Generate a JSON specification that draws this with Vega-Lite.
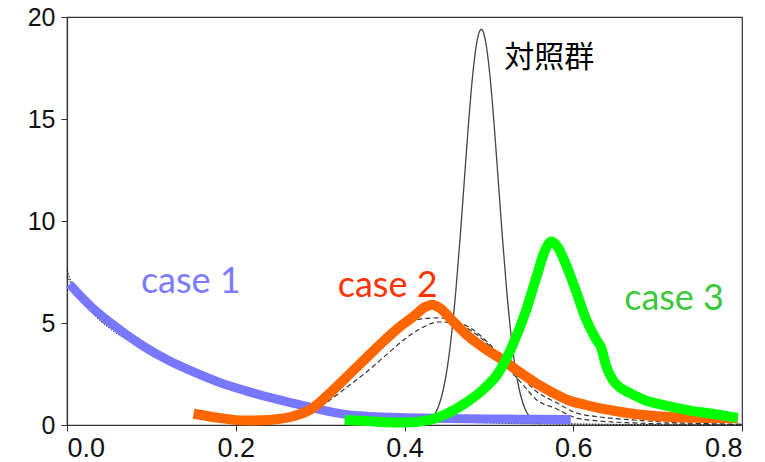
{
  "$schema": "https://vega.github.io/schema/vega-lite/v6.json",
  "width": 675,
  "height": 408,
  "autosize": {"type": "none"},
  "padding": {"left": 67, "top": 17, "right": 23, "bottom": 37},
  "background": "white",
  "config": {
    "view": {"stroke": "#333", "strokeWidth": 1.2},
    "axis": {
      "grid": false,
      "labelFont": "Liberation Sans",
      "labelFontSize": 25,
      "labelColor": "#111",
      "domainColor": "#333",
      "domainWidth": 1.2,
      "tickColor": "#333",
      "tickSize": 6,
      "title": null
    }
  },
  "datasets": {
    "lines": [
      {"s": "control", "x": 0.421, "y": 0.06},
      {"s": "control", "x": 0.431, "y": 0.27},
      {"s": "control", "x": 0.441, "y": 0.99},
      {"s": "control", "x": 0.446, "y": 1.74},
      {"s": "control", "x": 0.451, "y": 2.89},
      {"s": "control", "x": 0.456, "y": 4.52},
      {"s": "control", "x": 0.461, "y": 6.65},
      {"s": "control", "x": 0.466, "y": 9.22},
      {"s": "control", "x": 0.471, "y": 12.05},
      {"s": "control", "x": 0.476, "y": 14.85},
      {"s": "control", "x": 0.481, "y": 17.23},
      {"s": "control", "x": 0.486, "y": 18.83},
      {"s": "control", "x": 0.491, "y": 19.4},
      {"s": "control", "x": 0.496, "y": 18.83},
      {"s": "control", "x": 0.501, "y": 17.23},
      {"s": "control", "x": 0.506, "y": 14.85},
      {"s": "control", "x": 0.511, "y": 12.05},
      {"s": "control", "x": 0.516, "y": 9.22},
      {"s": "control", "x": 0.521, "y": 6.65},
      {"s": "control", "x": 0.526, "y": 4.52},
      {"s": "control", "x": 0.531, "y": 2.89},
      {"s": "control", "x": 0.536, "y": 1.74},
      {"s": "control", "x": 0.541, "y": 0.99},
      {"s": "control", "x": 0.551, "y": 0.27},
      {"s": "control", "x": 0.561, "y": 0.06},

      {"s": "d1", "x": 0.0, "y": 7.6},
      {"s": "d1", "x": 0.005, "y": 7.0},
      {"s": "d1", "x": 0.015, "y": 6.3},
      {"s": "d1", "x": 0.03, "y": 5.5},
      {"s": "d1", "x": 0.05, "y": 4.75},
      {"s": "d1", "x": 0.07, "y": 4.2},
      {"s": "d1", "x": 0.095, "y": 3.7},
      {"s": "d1", "x": 0.13, "y": 3.05},
      {"s": "d1", "x": 0.17, "y": 2.3},
      {"s": "d1", "x": 0.22, "y": 1.6},
      {"s": "d1", "x": 0.3, "y": 0.8},
      {"s": "d1", "x": 0.4, "y": 0.3},
      {"s": "d1", "x": 0.5, "y": 0.12},
      {"s": "d1", "x": 0.6, "y": 0.05},
      {"s": "d1", "x": 0.7, "y": 0.02},
      {"s": "d1", "x": 0.8, "y": 0.01},

      {"s": "d2", "x": 0.0, "y": 7.3},
      {"s": "d2", "x": 0.008, "y": 6.7},
      {"s": "d2", "x": 0.02, "y": 6.0},
      {"s": "d2", "x": 0.04, "y": 5.1},
      {"s": "d2", "x": 0.06, "y": 4.55},
      {"s": "d2", "x": 0.08, "y": 4.1},
      {"s": "d2", "x": 0.1, "y": 3.65},
      {"s": "d2", "x": 0.13, "y": 3.0},
      {"s": "d2", "x": 0.17, "y": 2.25},
      {"s": "d2", "x": 0.22, "y": 1.55},
      {"s": "d2", "x": 0.3, "y": 0.75},
      {"s": "d2", "x": 0.4, "y": 0.28},
      {"s": "d2", "x": 0.5, "y": 0.1},
      {"s": "d2", "x": 0.6, "y": 0.04},
      {"s": "d2", "x": 0.7, "y": 0.02},
      {"s": "d2", "x": 0.8, "y": 0.01},

      {"s": "k1", "x": 0.2, "y": 0.05},
      {"s": "k1", "x": 0.24, "y": 0.25},
      {"s": "k1", "x": 0.27, "y": 0.6},
      {"s": "k1", "x": 0.3, "y": 1.3},
      {"s": "k1", "x": 0.33, "y": 2.4},
      {"s": "k1", "x": 0.355, "y": 3.5},
      {"s": "k1", "x": 0.38, "y": 4.4},
      {"s": "k1", "x": 0.4, "y": 4.95},
      {"s": "k1", "x": 0.42, "y": 5.2},
      {"s": "k1", "x": 0.44, "y": 5.25},
      {"s": "k1", "x": 0.46, "y": 5.1},
      {"s": "k1", "x": 0.48, "y": 4.7},
      {"s": "k1", "x": 0.5, "y": 4.0},
      {"s": "k1", "x": 0.52, "y": 3.1},
      {"s": "k1", "x": 0.54, "y": 2.3},
      {"s": "k1", "x": 0.556, "y": 1.65},
      {"s": "k1", "x": 0.58, "y": 1.1},
      {"s": "k1", "x": 0.603, "y": 0.6},
      {"s": "k1", "x": 0.63, "y": 0.4},
      {"s": "k1", "x": 0.67, "y": 0.25},
      {"s": "k1", "x": 0.72, "y": 0.12},
      {"s": "k1", "x": 0.8, "y": 0.04},

      {"s": "k2", "x": 0.2, "y": 0.03},
      {"s": "k2", "x": 0.24, "y": 0.15},
      {"s": "k2", "x": 0.27, "y": 0.4},
      {"s": "k2", "x": 0.3, "y": 0.9},
      {"s": "k2", "x": 0.33, "y": 1.8},
      {"s": "k2", "x": 0.355, "y": 2.6},
      {"s": "k2", "x": 0.38, "y": 3.5},
      {"s": "k2", "x": 0.4, "y": 4.2},
      {"s": "k2", "x": 0.42, "y": 4.75},
      {"s": "k2", "x": 0.44, "y": 5.05},
      {"s": "k2", "x": 0.46, "y": 5.0},
      {"s": "k2", "x": 0.48, "y": 4.6},
      {"s": "k2", "x": 0.5, "y": 3.9},
      {"s": "k2", "x": 0.52, "y": 2.9},
      {"s": "k2", "x": 0.54, "y": 2.0},
      {"s": "k2", "x": 0.556, "y": 1.25},
      {"s": "k2", "x": 0.58, "y": 0.8},
      {"s": "k2", "x": 0.603, "y": 0.35},
      {"s": "k2", "x": 0.63, "y": 0.2},
      {"s": "k2", "x": 0.67, "y": 0.1},
      {"s": "k2", "x": 0.72, "y": 0.05},
      {"s": "k2", "x": 0.8, "y": 0.02},

      {"s": "case1", "x": 0.003, "y": 6.9},
      {"s": "case1", "x": 0.03, "y": 5.75},
      {"s": "case1", "x": 0.06, "y": 4.75},
      {"s": "case1", "x": 0.09, "y": 3.88},
      {"s": "case1", "x": 0.12, "y": 3.17},
      {"s": "case1", "x": 0.15, "y": 2.6},
      {"s": "case1", "x": 0.18, "y": 2.1},
      {"s": "case1", "x": 0.21, "y": 1.7},
      {"s": "case1", "x": 0.24, "y": 1.35},
      {"s": "case1", "x": 0.27, "y": 1.05},
      {"s": "case1", "x": 0.3, "y": 0.75},
      {"s": "case1", "x": 0.33, "y": 0.52},
      {"s": "case1", "x": 0.36, "y": 0.42},
      {"s": "case1", "x": 0.4, "y": 0.36},
      {"s": "case1", "x": 0.45, "y": 0.32},
      {"s": "case1", "x": 0.5, "y": 0.3},
      {"s": "case1", "x": 0.55, "y": 0.28},
      {"s": "case1", "x": 0.597, "y": 0.27},

      {"s": "case2", "x": 0.15, "y": 0.55},
      {"s": "case2", "x": 0.18, "y": 0.35},
      {"s": "case2", "x": 0.21, "y": 0.22},
      {"s": "case2", "x": 0.24, "y": 0.25},
      {"s": "case2", "x": 0.27, "y": 0.45},
      {"s": "case2", "x": 0.29, "y": 0.8},
      {"s": "case2", "x": 0.315, "y": 1.7},
      {"s": "case2", "x": 0.335, "y": 2.5},
      {"s": "case2", "x": 0.355, "y": 3.3},
      {"s": "case2", "x": 0.375, "y": 4.1},
      {"s": "case2", "x": 0.394, "y": 4.8},
      {"s": "case2", "x": 0.41, "y": 5.3},
      {"s": "case2", "x": 0.425, "y": 5.8},
      {"s": "case2", "x": 0.433, "y": 5.9},
      {"s": "case2", "x": 0.443, "y": 5.7},
      {"s": "case2", "x": 0.457, "y": 5.1},
      {"s": "case2", "x": 0.477, "y": 4.3},
      {"s": "case2", "x": 0.497, "y": 3.7},
      {"s": "case2", "x": 0.516, "y": 3.2},
      {"s": "case2", "x": 0.536, "y": 2.6},
      {"s": "case2", "x": 0.556, "y": 2.05},
      {"s": "case2", "x": 0.575, "y": 1.6},
      {"s": "case2", "x": 0.595, "y": 1.2},
      {"s": "case2", "x": 0.615, "y": 0.98},
      {"s": "case2", "x": 0.634, "y": 0.8},
      {"s": "case2", "x": 0.655, "y": 0.65},
      {"s": "case2", "x": 0.675, "y": 0.53},
      {"s": "case2", "x": 0.7, "y": 0.43},
      {"s": "case2", "x": 0.73, "y": 0.37},
      {"s": "case2", "x": 0.76, "y": 0.34},
      {"s": "case2", "x": 0.795, "y": 0.33},

      {"s": "case3", "x": 0.329, "y": 0.25},
      {"s": "case3", "x": 0.36, "y": 0.18},
      {"s": "case3", "x": 0.4, "y": 0.12},
      {"s": "case3", "x": 0.43, "y": 0.25},
      {"s": "case3", "x": 0.45, "y": 0.55},
      {"s": "case3", "x": 0.473, "y": 1.1},
      {"s": "case3", "x": 0.495, "y": 1.8},
      {"s": "case3", "x": 0.512, "y": 2.6},
      {"s": "case3", "x": 0.528, "y": 3.9},
      {"s": "case3", "x": 0.544, "y": 5.6},
      {"s": "case3", "x": 0.556, "y": 7.2},
      {"s": "case3", "x": 0.566, "y": 8.5},
      {"s": "case3", "x": 0.574, "y": 9.0},
      {"s": "case3", "x": 0.582, "y": 8.7},
      {"s": "case3", "x": 0.592, "y": 7.8},
      {"s": "case3", "x": 0.603, "y": 6.6},
      {"s": "case3", "x": 0.615, "y": 5.2},
      {"s": "case3", "x": 0.627, "y": 4.2},
      {"s": "case3", "x": 0.633, "y": 3.8},
      {"s": "case3", "x": 0.639, "y": 2.9},
      {"s": "case3", "x": 0.647, "y": 2.2},
      {"s": "case3", "x": 0.655, "y": 1.85},
      {"s": "case3", "x": 0.668, "y": 1.55},
      {"s": "case3", "x": 0.686, "y": 1.2},
      {"s": "case3", "x": 0.71, "y": 0.95},
      {"s": "case3", "x": 0.737, "y": 0.72},
      {"s": "case3", "x": 0.765, "y": 0.55},
      {"s": "case3", "x": 0.795, "y": 0.35}
    ],
    "labels": [
      {"t": "case 1", "x": 0.1467, "y": 6.47, "c": "#7B7BFF"},
      {"t": "case 2", "x": 0.38, "y": 6.27, "c": "#FF3300"},
      {"t": "case 3", "x": 0.7195, "y": 5.64, "c": "#3CC83C"}
    ],
    "cjk": [
      {"t": "対照群", "x": 0.5716, "y": 17.99}
    ]
  },
  "layer": [
    {
      "data": {"name": "lines"},
      "transform": [{"filter": "datum.s === 'control'"}],
      "mark": {"type": "line", "color": "#444", "strokeWidth": 1.3, "interpolate": "monotone"},
      "encoding": {
        "x": {"field": "x", "type": "quantitative", "scale": {"domain": [0, 0.8], "nice": false}, "axis": {"values": [0, 0.2, 0.4, 0.6, 0.8], "format": ".1f", "labelPadding": 4, "labelFontSize": 27}},
        "y": {"field": "y", "type": "quantitative", "scale": {"domain": [0, 20], "nice": false}, "axis": {"values": [0, 5, 10, 15, 20], "labelPadding": 6}}
      }
    },
    {
      "data": {"name": "lines"},
      "transform": [{"filter": "datum.s === 'd1' || datum.s === 'd2'"}],
      "mark": {"type": "line", "color": "#222", "strokeWidth": 1, "strokeDash": [1.5, 1.5], "interpolate": "monotone"},
      "encoding": {
        "x": {"field": "x", "type": "quantitative"},
        "y": {"field": "y", "type": "quantitative"},
        "detail": {"field": "s"}
      }
    },
    {
      "data": {"name": "lines"},
      "transform": [{"filter": "datum.s === 'k1' || datum.s === 'k2'"}],
      "mark": {"type": "line", "color": "#333", "strokeWidth": 1.2, "strokeDash": [5, 3], "interpolate": "monotone"},
      "encoding": {
        "x": {"field": "x", "type": "quantitative"},
        "y": {"field": "y", "type": "quantitative"},
        "detail": {"field": "s"}
      }
    },
    {
      "data": {"name": "lines"},
      "transform": [{"filter": "datum.s === 'case1'"}],
      "mark": {"type": "line", "color": "#7777FF", "strokeWidth": 9, "interpolate": "monotone", "strokeCap": "butt"},
      "encoding": {
        "x": {"field": "x", "type": "quantitative"},
        "y": {"field": "y", "type": "quantitative"}
      }
    },
    {
      "data": {"name": "lines"},
      "transform": [{"filter": "datum.s === 'case2'"}],
      "mark": {"type": "line", "color": "#FF6600", "strokeWidth": 10, "interpolate": "monotone", "strokeCap": "butt", "strokeJoin": "round"},
      "encoding": {
        "x": {"field": "x", "type": "quantitative"},
        "y": {"field": "y", "type": "quantitative"}
      }
    },
    {
      "data": {"name": "lines"},
      "transform": [{"filter": "datum.s === 'case3'"}],
      "mark": {"type": "line", "color": "#00FF00", "strokeWidth": 10, "interpolate": "monotone", "strokeCap": "butt", "strokeJoin": "round"},
      "encoding": {
        "x": {"field": "x", "type": "quantitative"},
        "y": {"field": "y", "type": "quantitative"}
      }
    },
    {
      "data": {"name": "labels"},
      "mark": {"type": "text", "font": "Lato", "fontSize": 36, "baseline": "alphabetic", "align": "center"},
      "encoding": {
        "x": {"field": "x", "type": "quantitative"},
        "y": {"field": "y", "type": "quantitative"},
        "text": {"field": "t"},
        "color": {"field": "c", "type": "nominal", "scale": null}
      }
    },
    {
      "data": {"name": "cjk"},
      "mark": {"type": "text", "font": "Noto Sans CJK JP", "fontSize": 30, "baseline": "middle", "align": "center", "color": "#000"},
      "encoding": {
        "x": {"field": "x", "type": "quantitative"},
        "y": {"field": "y", "type": "quantitative"},
        "text": {"field": "t"}
      }
    }
  ]
}
